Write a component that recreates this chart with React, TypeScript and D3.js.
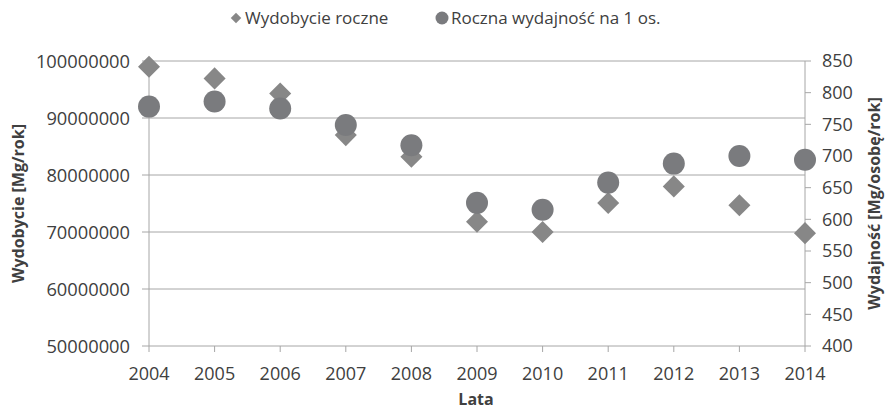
import React from 'react';
import * as d3 from 'd3';

const years = ['2004', '2005', '2006', '2007', '2008', '2009', '2010', '2011', '2012', '2013', '2014'];
// Wydobycie roczne [Mg/rok]
const output = [99000000, 96950000, 94300000, 87000000, 83200000, 71800000, 70000000, 75100000, 78000000, 74700000, 69800000];
// Roczna wydajność na 1 os. [Mg/osobę/rok]
const perWorker = [778, 786, 775, 749, 717, 626, 615, 658, 688, 700, 694];
const leftTicks = [50000000, 60000000, 70000000, 80000000, 90000000, 100000000];
const rightTicks = [400, 450, 500, 550, 600, 650, 700, 750, 800, 850];

const font = '"Open Sans", sans-serif';
const textColor = '#404040';
const axisColor = '#a6a6a6';
const diamondColor = '#878787';
const circleColor = '#7a7b7e';

function App() {
  const width = 887;
  const height = 410;
  const plot = { left: 149, right: 805, top: 61, bottom: 346 };

  const x = d3.scalePoint<string>().domain(years).range([plot.left, plot.right]);
  const yLeft = d3.scaleLinear().domain([50000000, 100000000]).range([plot.bottom, plot.top]);
  const yRight = d3.scaleLinear().domain([400, 850]).range([plot.bottom, plot.top]);

  const diamond = d3.symbol(d3.symbolDiamond2, 310)();
  const r = 11;

  return (
    <svg width={width} height={height} style={{ position: 'absolute', left: 0, top: 0, fontFamily: font }}>
      <rect width={width} height={height} fill="#fff" />

      {/* gridlines */}
      {leftTicks.map((t) => (
        <line key={t} x1={plot.left - 7} x2={plot.right} y1={yLeft(t)} y2={yLeft(t)} stroke={axisColor} strokeWidth={1} />
      ))}
      {/* axes */}
      <line x1={plot.left} x2={plot.left} y1={plot.top} y2={plot.bottom} stroke={axisColor} />
      <line x1={plot.right} x2={plot.right} y1={plot.top} y2={plot.bottom} stroke={axisColor} />
      {years.map((yr) => (
        <line key={yr} x1={x(yr)} x2={x(yr)} y1={plot.bottom} y2={plot.bottom + 6} stroke={axisColor} />
      ))}
      {rightTicks.map((t) => (
        <line key={t} x1={plot.right} x2={plot.right + 6} y1={yRight(t)} y2={yRight(t)} stroke={axisColor} />
      ))}

      {/* tick labels */}
      {leftTicks.map((t) => (
        <text key={t} x={plot.left - 19} y={yLeft(t)} dy="0.36em" textAnchor="end" fontSize={18.3} fill={textColor}>
          {t}
        </text>
      ))}
      {rightTicks.map((t) => (
        <text key={t} x={plot.right + 17} y={yRight(t)} dy="0.36em" fontSize={18} fill={textColor}>
          {t}
        </text>
      ))}
      {years.map((yr) => (
        <text key={yr} x={x(yr)} y={380} textAnchor="middle" fontSize={18} fill={textColor}>
          {yr}
        </text>
      ))}

      {/* axis titles */}
      <text transform={`translate(24 ${(plot.top + plot.bottom) / 2}) rotate(-90)`} textAnchor="middle" fontSize={16} fontWeight="bold" fill={textColor}>
        Wydobycie [Mg/rok]
      </text>
      <text transform={`translate(880 ${(plot.top + plot.bottom) / 2}) rotate(-90)`} textAnchor="middle" fontSize={16} fontWeight="bold" fill={textColor}>
        Wydajność [Mg/osobę/rok]
      </text>
      <text x={476} y={405} textAnchor="middle" fontSize={16} fontWeight="bold" fill={textColor}>
        Lata
      </text>

      {/* series */}
      {years.map((yr, i) => (
        <path key={yr} d={diamond} transform={`translate(${x(yr)} ${yLeft(output[i])})`} fill={diamondColor} />
      ))}
      {years.map((yr, i) => (
        <circle key={yr} cx={x(yr)} cy={yRight(perWorker[i])} r={r} fill={circleColor} />
      ))}

      {/* legend */}
      <path d={d3.symbol(d3.symbolDiamond2, 70)()} transform="translate(236 18)" fill={diamondColor} />
      <text x={245} y={18} dy="0.36em" fontSize={17} fill={textColor}>
        Wydobycie roczne
      </text>
      <circle cx={442} cy={18} r={6.5} fill={circleColor} />
      <text x={451} y={18} dy="0.36em" fontSize={17} fill={textColor}>
        Roczna wydajność na 1 os.
      </text>
    </svg>
  );
}

export default App;
